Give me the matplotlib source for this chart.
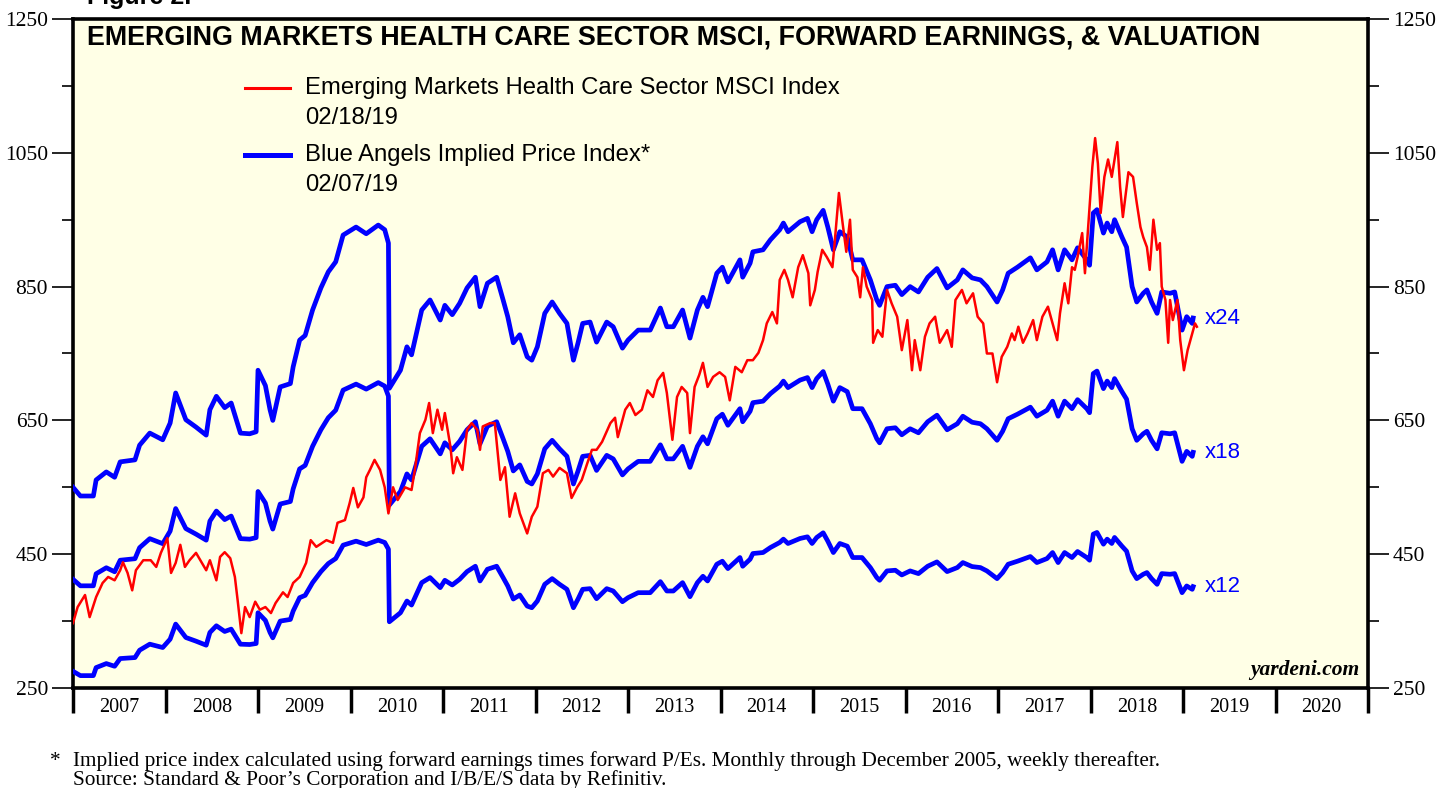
import numpy as np
import matplotlib
matplotlib.use("Agg")
import matplotlib.pyplot as plt
from matplotlib.ticker import MultipleLocator, FixedLocator, NullFormatter

# ---- data ----
# Blue Angels implied price index at 24x forward P/E (weekly-ish samples)
bai_dates = [2007.00, 2007.08, 2007.22, 2007.25, 2007.36, 2007.45, 2007.51, 2007.67, 2007.72, 2007.83,
             2007.97, 2008.05, 2008.11, 2008.22, 2008.33, 2008.44, 2008.48, 2008.55, 2008.64, 2008.71,
             2008.81, 2008.91, 2008.98, 2009.00, 2009.08, 2009.13, 2009.16, 2009.19, 2009.24, 2009.35,
             2009.38, 2009.45, 2009.51, 2009.59, 2009.68, 2009.76, 2009.84, 2009.92, 2010.06, 2010.17,
             2010.30, 2010.37, 2010.41, 2010.42, 2010.54, 2010.61, 2010.66, 2010.77, 2010.86, 2010.97,
             2011.02, 2011.10, 2011.18, 2011.26, 2011.35, 2011.40, 2011.48, 2011.58, 2011.65, 2011.70,
             2011.76, 2011.83, 2011.91, 2011.96, 2012.02, 2012.10, 2012.18, 2012.26, 2012.34, 2012.41,
             2012.46, 2012.51, 2012.59, 2012.66, 2012.77, 2012.84, 2012.94, 2013.00, 2013.11, 2013.24,
             2013.35, 2013.42, 2013.49, 2013.59, 2013.67, 2013.75, 2013.81, 2013.86, 2013.96, 2014.02,
             2014.08, 2014.21, 2014.24, 2014.32, 2014.35, 2014.46, 2014.54, 2014.64, 2014.68, 2014.73,
             2014.86, 2014.94, 2014.99, 2015.04, 2015.11, 2015.16, 2015.22, 2015.29, 2015.37, 2015.43,
             2015.53, 2015.62, 2015.69, 2015.72, 2015.80, 2015.89, 2015.96, 2016.05, 2016.14, 2016.24,
             2016.34, 2016.45, 2016.56, 2016.62, 2016.72, 2016.81, 2016.88, 2016.99, 2017.05, 2017.11,
             2017.21, 2017.35, 2017.42, 2017.53, 2017.59, 2017.65, 2017.72, 2017.80, 2017.86, 2017.96,
             2017.99, 2018.03, 2018.07, 2018.14, 2018.18, 2018.23, 2018.26, 2018.34, 2018.39, 2018.45,
             2018.50, 2018.57, 2018.61, 2018.66, 2018.72, 2018.77, 2018.86, 2018.91, 2018.99, 2019.04,
             2019.10, 2019.11]
bai_x24 = [550, 537, 537, 561, 573, 565, 588, 591, 613, 631,
           621, 646, 691, 651, 640, 628, 666, 686, 669, 676,
           631, 630, 633, 725, 702, 666, 650, 669, 700, 705,
           730, 770, 777, 815, 848, 872, 887, 927, 939, 929,
           942, 935, 915, 698, 725, 760, 748, 815, 830, 800,
           822, 808, 825, 848, 864, 820, 855, 864, 830, 805,
           766, 778, 745, 740, 760, 810, 827, 810, 795, 740,
           766, 795, 797, 767, 797, 790, 758, 770, 785, 785,
           818, 790, 790, 815, 773, 815, 834, 820, 870, 879,
           857, 890, 864, 885, 902, 905, 920, 935, 945, 932,
           947, 952, 932, 950, 964, 939, 905, 932, 924, 890,
           890, 860, 830, 822, 850, 852, 838, 850, 842, 864,
           877, 848, 860, 875, 863, 860, 850, 827, 845, 870,
           879, 893, 875, 887, 905, 875, 905, 890, 908, 890,
           882, 960, 965, 930, 945, 932, 950, 924, 909, 850,
           827, 840, 845, 827, 810, 842, 840, 842, 785, 805,
           795, 803]
pe_multiples = [24, 18, 12]

# MSCI EM Health Care index
msci_dates = [2007.00, 2007.05, 2007.13, 2007.18, 2007.25, 2007.32, 2007.38, 2007.45, 2007.51, 2007.54,
              2007.59, 2007.64, 2007.68, 2007.76, 2007.84, 2007.90, 2007.95, 2008.02, 2008.06, 2008.11,
              2008.16, 2008.21, 2008.26, 2008.33, 2008.44, 2008.48, 2008.55, 2008.59, 2008.64, 2008.70,
              2008.75, 2008.78, 2008.82, 2008.86, 2008.91, 2008.97, 2009.02, 2009.08, 2009.14, 2009.19,
              2009.27, 2009.32, 2009.38, 2009.45, 2009.52, 2009.57, 2009.63, 2009.74, 2009.81, 2009.86,
              2009.94, 2009.99, 2010.03, 2010.08, 2010.14, 2010.17, 2010.21, 2010.26, 2010.32, 2010.37,
              2010.41, 2010.46, 2010.51, 2010.59, 2010.66, 2010.70, 2010.75, 2010.81, 2010.85, 2010.89,
              2010.94, 2010.99, 2011.02, 2011.08, 2011.11, 2011.15, 2011.21, 2011.26, 2011.31, 2011.37,
              2011.40, 2011.43, 2011.51, 2011.56, 2011.62, 2011.67, 2011.72, 2011.78, 2011.83, 2011.91,
              2011.96, 2012.02, 2012.08, 2012.14, 2012.19, 2012.26, 2012.34, 2012.39, 2012.45, 2012.50,
              2012.56, 2012.61, 2012.66, 2012.72, 2012.81, 2012.86, 2012.89, 2012.97, 2013.02, 2013.08,
              2013.15, 2013.21, 2013.27, 2013.32, 2013.38, 2013.42, 2013.48, 2013.53, 2013.58, 2013.64,
              2013.67, 2013.72, 2013.77, 2013.81, 2013.86, 2013.92, 2013.99, 2014.05, 2014.10, 2014.16,
              2014.23, 2014.29, 2014.35, 2014.41, 2014.46, 2014.50, 2014.56, 2014.61, 2014.64, 2014.69,
              2014.73, 2014.78, 2014.84, 2014.89, 2014.95, 2014.97, 2015.02, 2015.05, 2015.10, 2015.15,
              2015.21, 2015.23, 2015.28, 2015.32, 2015.36, 2015.40, 2015.43, 2015.48, 2015.51, 2015.54,
              2015.58, 2015.64, 2015.65, 2015.70, 2015.75, 2015.80, 2015.85, 2015.91, 2015.96, 2016.02,
              2016.07, 2016.10, 2016.16, 2016.21, 2016.26, 2016.32, 2016.37, 2016.45, 2016.50, 2016.54,
              2016.61, 2016.66, 2016.73, 2016.78, 2016.84, 2016.88, 2016.94, 2016.99, 2017.04, 2017.10,
              2017.15, 2017.18, 2017.22, 2017.27, 2017.32, 2017.38, 2017.42, 2017.48, 2017.54, 2017.58,
              2017.64, 2017.67, 2017.72, 2017.76, 2017.80, 2017.83, 2017.86, 2017.91, 2017.94, 2017.97,
              2018.02, 2018.05, 2018.08, 2018.11, 2018.15, 2018.19, 2018.23, 2018.29, 2018.32, 2018.35,
              2018.41, 2018.46, 2018.50, 2018.54, 2018.57, 2018.61, 2018.64, 2018.68, 2018.72, 2018.75,
              2018.77, 2018.81, 2018.84, 2018.86, 2018.89, 2018.94, 2018.97, 2019.01, 2019.05, 2019.10,
              2019.13, 2019.15]
msci_index = [347, 371, 389, 356, 386, 407, 416, 411, 426, 438,
              422, 396, 426, 441, 441, 431, 452, 474, 422, 437,
              464, 431, 441, 452, 426, 441, 411, 446, 453, 444,
              416, 381, 332, 371, 356, 379, 367, 371, 362, 377,
              393, 386, 407, 416, 437, 471, 461, 471, 467, 497,
              501, 526, 549, 520, 535, 565, 576, 591, 576, 550,
              511, 550, 531, 550, 546, 580, 631, 651, 676, 631,
              666, 636, 661, 611, 571, 595, 576, 636, 646, 636,
              606, 641, 646, 646, 561, 580, 506, 541, 511, 481,
              506, 521, 571, 576, 566, 579, 571, 534, 550, 561,
              586, 606, 606, 618, 646, 654, 625, 666, 676, 658,
              666, 695, 685, 710, 721, 691, 621, 685, 700, 691,
              631, 700, 718, 736, 700, 715, 722, 715, 680, 730,
              722, 740, 740, 751, 770, 795, 812, 795, 860, 875,
              860, 834, 879, 897, 870, 822, 845, 872, 905, 894,
              879, 909, 990, 945, 902, 950, 875, 864, 834, 879,
              850, 830, 766, 785, 775, 845, 825, 805, 755, 800,
              725, 770, 725, 775, 795, 805, 766, 785, 760, 830,
              845, 825, 840, 805, 795, 750, 750, 707, 745, 760,
              780, 770, 790, 766, 780, 800, 770, 805, 820, 800,
              770, 810, 855, 825, 879, 875, 894, 930, 870, 930,
              1029, 1072, 1034, 960, 1014, 1040, 1014, 1066, 999, 954,
              1021, 1014, 975, 939, 924, 909, 875, 950, 905, 915,
              850, 830, 766, 830, 800, 830, 770, 725, 755, 780,
              795, 790]

year_labels = [str(y) for y in range(2007, 2021)]
y_major = [250, 450, 650, 850, 1050, 1250]
y_minor = [350, 550, 750, 950, 1150]

# ---- figure ----
fig = plt.figure(figsize=(14.36, 7.88), dpi=100)
ax = fig.add_axes([73/1436, 1 - 688/788, (1368 - 73)/1436, (688 - 19)/788])
ax.set_facecolor('#FFFFE6')

fwd_eps = np.array(bai_x24) / 24.0
for pe in pe_multiples:
    ax.plot(bai_dates, fwd_eps * pe, color='#0000FF', lw=3.4, solid_joinstyle='round', zorder=3)
    ax.text(2019.24, fwd_eps[-1] * pe, 'x%d' % pe, color='#0000FF', fontsize=16,
            family='Liberation Sans', va='center', ha='left')
ax.plot(msci_dates, msci_index, color='#FF0000', lw=1.8, zorder=4)

# axes limits & ticks
ax.set_xlim(2007, 2021)
ax.set_ylim(250, 1250)
ax.yaxis.set_major_locator(FixedLocator(y_major))
ax.yaxis.set_minor_locator(FixedLocator(y_minor))
ax.yaxis.set_ticks_position('both')
ax.tick_params(axis='y', which='major', length=15, width=1.2, labelsize=15.5,
               labelleft=True, labelright=True, direction='out', pad=3)
ax.tick_params(axis='y', which='minor', length=8, width=1.2, direction='out')
for lab in ax.get_yticklabels():
    lab.set_family('Liberation Serif')

ax.xaxis.set_major_locator(MultipleLocator(1))
ax.xaxis.set_major_formatter(NullFormatter())
ax.xaxis.set_minor_locator(FixedLocator(np.arange(2007.5, 2021, 1.0)))
ax.set_xticklabels(year_labels, minor=True)
ax.tick_params(axis='x', which='major', length=18, width=2.5, direction='out')
ax.tick_params(axis='x', which='minor', length=0, labelsize=14.5, pad=7)
for lab in ax.get_xticklabels(minor=True):
    lab.set_family('Liberation Serif')

for sp in ax.spines.values():
    sp.set_linewidth(2.6)

# title and legend
ax.text(0.011, 0.9716, 'EMERGING MARKETS HEALTH CARE SECTOR MSCI, FORWARD EARNINGS, & VALUATION',
        transform=ax.transAxes, fontsize=19.4, fontweight='bold', family='Liberation Sans',
        va='center', ha='left')

ax.plot([2008.86, 2009.35], [1147, 1147], color='#FF0000', lw=2.2)
ax.text(2009.51, 1147, 'Emerging Markets Health Care Sector MSCI Index', fontsize=17.2,
        family='Liberation Sans', va='center')
ax.text(2009.51, 1102, '02/18/19', fontsize=17.2, family='Liberation Sans', va='center')
ax.plot([2008.86, 2009.35], [1047, 1047], color='#0000FF', lw=3.6)
ax.text(2009.51, 1047, 'Blue Angels Implied Price Index*', fontsize=17.2,
        family='Liberation Sans', va='center')
ax.text(2009.51, 1002, '02/07/19', fontsize=17.2, family='Liberation Sans', va='center')

ax.text(0.993, 0.012, 'yardeni.com', transform=ax.transAxes, fontsize=15.5,
        fontweight='bold', style='italic', family='Liberation Serif', ha='right', va='bottom')

# figure label and footnotes
fig.text(87/1436, 1 - 4/788, 'Figure 2.', fontsize=18, fontweight='bold',
         family='Liberation Sans', va='baseline', ha='left')
fig.text(50/1436, 1 - 761/788, '*', fontsize=15.3, family='Liberation Serif', va='center')
fig.text(73/1436, 1 - 761/788,
         'Implied price index calculated using forward earnings times forward P/Es. '
         'Monthly through December 2005, weekly thereafter.',
         fontsize=15.3, family='Liberation Serif', va='center')
fig.text(73/1436, 1 - 780/788,
         'Source: Standard & Poor\u2019s Corporation and I/B/E/S data by Refinitiv.',
         fontsize=15.3, family='Liberation Serif', va='center')

fig.savefig('out.png', dpi=100, facecolor='white')
